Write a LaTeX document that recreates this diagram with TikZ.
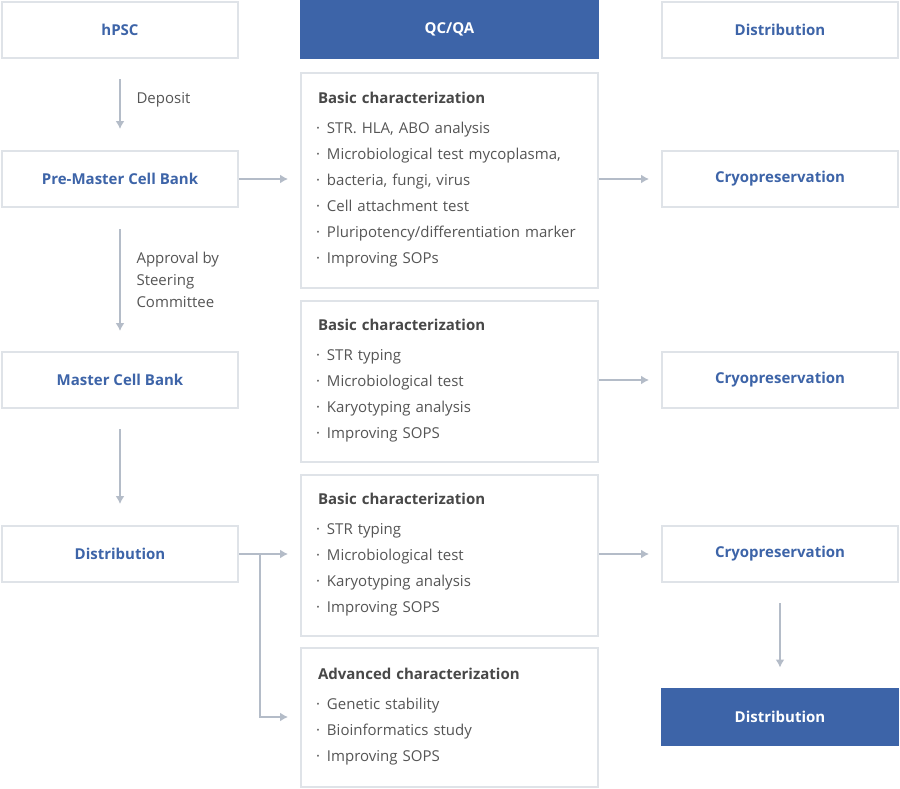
\documentclass[tikz,border=0pt]{standalone}
\usepackage{fontspec}
\setmainfont{Open Sans}
\usepackage{xcolor}
\usetikzlibrary{calc}
\usetikzlibrary{positioning}
\usetikzlibrary{arrows.meta}
\definecolor{qcblue}{HTML}{3D64A8}
\definecolor{edge}{HTML}{DFE3E8}
\definecolor{arrowc}{HTML}{B4BCC8}
\definecolor{txt}{HTML}{555555}
\newcommand{\basefont}{\fontsize{15}{26}\selectfont}
\tikzstyle{block}    = [rectangle, draw=edge, line width=2pt, fill=white, text=qcblue, font=\basefont\bfseries, minimum width=236pt, minimum height=56pt, inner sep=0pt]
\tikzstyle{head}     = [rectangle, fill=qcblue, text=white, font=\basefont\bfseries, minimum width=299pt, minimum height=59pt, inner sep=0pt]
\tikzstyle{check}    = [rectangle, draw=edge, line width=2pt, fill=white, text=txt, align=left, text width=267pt, inner xsep=15pt, minimum width=297pt]
\tikzstyle{line}     = [draw=arrowc, line width=1.5pt, -{Latex[length=8pt,width=9pt]}]
\tikzstyle{lbl}      = [text=txt, align=left, anchor=west]
\newcommand{\itm}[1]{\makebox[11pt][l]{·}#1}
\newcommand{\ttl}[1]{\hspace*{2pt}{\bfseries\color{txt!85!black}#1}\\[4pt]}

\begin{document}
\begin{tikzpicture}[x=1pt, y=-1pt, font=\basefont]
        \useasboundingbox (0,0) rectangle (900,788);
        % left column
        \node [block] (hpsc) at (120,30) {hPSC};
        \node [block] (pmcb) at (120,179) {Pre-Master Cell Bank};
        \node [block] (mcb) at (120,380) {Master Cell Bank};
        \node [block] (dist) at (120,554) {Distribution};
        % middle column
        \node [head] (qcqa) at (449.5,29.5) {QC/QA};
        \node [check, minimum height=215pt] (qc1) at (449.5,180) {\ttl{Basic characterization}
            \itm{STR. HLA, ABO analysis}\\
            \itm{Microbiological test mycoplasma,}\\
            \itm{}bacteria, fungi, virus\\
            \itm{Cell attachment test}\\
            \itm{Pluripotency/differentiation marker}\\
            \itm{Improving SOPs}};
        \node [check, minimum height=161pt] (qc2) at (449.5,381) {\ttl{Basic characterization}
            \itm{STR typing}\\
            \itm{Microbiological test}\\
            \itm{Karyotyping analysis}\\
            \itm{Improving SOPS}};
        \node [check, minimum height=161pt] (qc3) at (449.5,555) {\ttl{Basic characterization}
            \itm{STR typing}\\
            \itm{Microbiological test}\\
            \itm{Karyotyping analysis}\\
            \itm{Improving SOPS}};
        \node [check, minimum height=139pt] (qc4) at (449.5,717) {\ttl{Advanced characterization}
            \itm{Genetic stability}\\
            \itm{Bioinformatics study}\\
            \itm{Improving SOPS}};
        % right column
        \node [block] (dhead) at (780,30) {Distribution};
        \node [block] (cryo1) at (780,179) {Cryopreservation};
        \node [block] (cryo2) at (780,380) {Cryopreservation};
        \node [block] (cryo3) at (780,554) {Cryopreservation};
        \node [block, draw=qcblue, fill=qcblue, text=white] (dfin) at (780,716.5) {Distribution};
        % connectors
        \path [line, shorten <=20pt, shorten >=21pt] (hpsc) -- (pmcb);
        \path [line, shorten <=21pt, shorten >=20pt] (pmcb) -- (mcb);
        \path [line, shorten <=20pt, shorten >=21pt] (mcb) -- (dist);
        \path [line, shorten <=20pt, shorten >=20pt] (cryo3) -- (dfin);
        \path [line, shorten >=12pt] (pmcb) -- (pmcb -| qc1.west);
        \path [line, shorten >=12pt] (cryo1 -| qc1.east) -- (cryo1);
        \path [line, shorten >=12pt] (cryo2 -| qc2.east) -- (cryo2);
        \path [line, shorten >=12pt] (cryo3 -| qc3.east) -- (cryo3);
        \path [line, shorten >=12pt] (dist) -- (dist -| qc3.west);
        \coordinate (fork) at ($(dist.east)+(21,0)$);
        \path [line, shorten >=12pt] (fork) |- (qc4);
        \node [lbl] (dep) at (133,100) {Deposit};
        \node [lbl] (appr) at (133,280) {Approval by\\[-4pt]Steering\\[-4pt]Committee};
    \end{tikzpicture}
\end{document}
